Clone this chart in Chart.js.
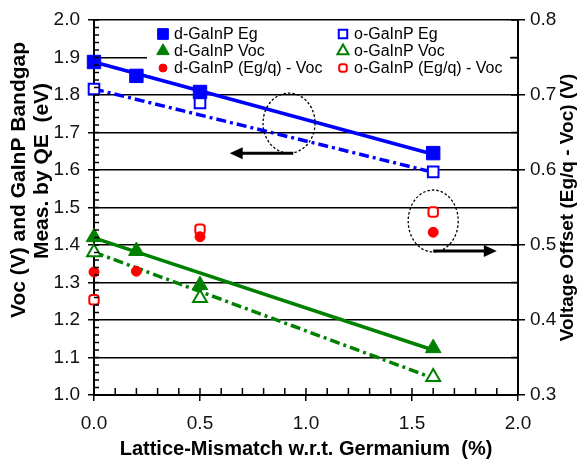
<!DOCTYPE html>
<html>
<head>
<meta charset="utf-8">
<script src="https://cdn.jsdelivr.net/npm/chart.js@4.4.1/dist/chart.umd.min.js"></script>
<style>
  html, body { margin: 0; padding: 0; background: #fff; }
</style>
</head>
<body>
<canvas id="chart" width="581" height="464"></canvas>
<script>
// lattice mismatch w.r.t. Ge (%) of the measured samples
const mismatchD = [0, 0.2, 0.5, 1.6];
const mismatchO = [0, 0.5, 1.6];

// bandgap from QE and Voc (left axis, eV / V)
const dEg = [1.888, 1.851, 1.808, 1.645];
const oEg = [1.816, 1.779, 1.595];
const dVoc = [1.421, 1.384, 1.293, 1.125];
const oVoc = [1.381, 1.259, 1.048];

// voltage offset Eg/q - Voc (right axis, V)
const dOffset = [0.464, 0.465, 0.511, 0.517];
const oOffset = [0.427, 0.521, 0.544];

// linear fits, evaluated at 0 and 1.6 %
const fitX = [0, 1.6];
const dEgFit = [1.888, 1.642];
const oEgFit = [1.816, 1.594];
const dVocFit = [1.419, 1.120];
const oVocFit = [1.381, 1.045];

const xTicks = [0, 0.5, 1.0, 1.5, 2.0];
const yTicks = [1.0, 1.1, 1.2, 1.3, 1.4, 1.5, 1.6, 1.7, 1.8, 1.9, 2.0];
const y2Ticks = [0.3, 0.4, 0.5, 0.6, 0.7, 0.8];

const BLUE = '#0000ff';
const GREEN = '#008000';
const RED = '#ff0000';
const FONT = '"Liberation Sans", Arial, Helvetica, sans-serif';

function pts(xs, ys) {
    return xs.map((x, i) => ({ x: x, y: ys[i] }));
}

function markers(label, xs, ys, axis, style, color, filled, r) {
    return {
        label: label,
        data: pts(xs, ys),
        yAxisID: axis,
        showLine: false,
        clip: false,
        pointStyle: style,
        pointRadius: r,
        pointHoverRadius: r,
        pointBackgroundColor: filled ? color : '#ffffff',
        pointBorderColor: color,
        pointBorderWidth: filled ? 1 : 2,
        borderColor: color,
        backgroundColor: filled ? color : '#ffffff',
        order: 1
    };
}

function fitLine(ys, color, dash) {
    return {
        data: pts(fitX, ys),
        yAxisID: 'y',
        showLine: true,
        clip: false,
        pointRadius: 0,
        borderColor: color,
        borderWidth: 3.5,
        borderDash: dash,
        fill: false,
        order: 2
    };
}

const DASHDOT = [10, 4, 3, 4];

const datasets = [
    markers('d-GaInP Eg', mismatchD, dEg, 'y', 'rect', BLUE, true, 9.5),
    markers('o-GaInP Eg', mismatchO, oEg, 'y', 'rect', BLUE, false, 7.5),
    markers('d-GaInP Voc', mismatchD, dVoc, 'y', 'triangle', GREEN, true, 9),
    markers('o-GaInP Voc', mismatchO, oVoc, 'y', 'triangle', GREEN, false, 8),
    markers('d-GaInP (Eg/q) - Voc', mismatchD, dOffset, 'y2', 'circle', RED, true, 5),
    markers('o-GaInP (Eg/q) - Voc', mismatchO, oOffset, 'y2', 'rectRounded', RED, false, 5.5),
    fitLine(dEgFit, BLUE, []),
    fitLine(oEgFit, BLUE, DASHDOT),
    fitLine(dVocFit, GREEN, []),
    fitLine(oVocFit, GREEN, DASHDOT)
];

// callout ellipses and arrows: centres in data units, sizes in px
const callouts = [
    { axis: 'y', cx: 0.92, cy: 1.725, rx: 26, ry: 30, ay: 1.645, ax0: 0.94, ax1: 0.64 },
    { axis: 'y2', cx: 1.6, cy: 0.532, rx: 25, ry: 31, ay: 0.492, ax0: 1.6, ax1: 1.90 }
];

function line(ctx, x0, y0, x1, y1) {
    ctx.beginPath();
    ctx.moveTo(x0, y0);
    ctx.lineTo(x1, y1);
    ctx.stroke();
}

const calloutPlugin = {
    id: 'callouts',
    afterDatasetsDraw(chart) {
        const ctx = chart.ctx;
        const xs = chart.scales.x;
        ctx.save();
        ctx.strokeStyle = '#000';
        callouts.forEach(c => {
            const ys = chart.scales[c.axis];
            const cx = xs.getPixelForValue(c.cx);
            const cy = ys.getPixelForValue(c.cy);
            ctx.lineWidth = 1.3;
            ctx.setLineDash([2.5, 2]);
            ctx.beginPath();
            ctx.ellipse(cx, cy, c.rx, c.ry, 0, 0, Math.PI * 2);
            ctx.stroke();

            const ay = ys.getPixelForValue(c.ay);
            const x0 = xs.getPixelForValue(c.ax0);
            const x1 = xs.getPixelForValue(c.ax1);
            const dir = x1 > x0 ? 1 : -1;
            ctx.setLineDash([]);
            ctx.lineWidth = 3;
            line(ctx, x0, ay, x1 - dir * 10, ay);
            ctx.fillStyle = '#000';
            ctx.beginPath();
            ctx.moveTo(x1, ay);
            ctx.lineTo(x1 - dir * 13, ay - 6);
            ctx.lineTo(x1 - dir * 13, ay + 6);
            ctx.closePath();
            ctx.fill();
        });
        ctx.restore();
    }
};

// boxed two-column legend sitting inside the plot
const legendPlugin = {
    id: 'innerLegend',
    afterDatasetsDraw(chart) {
        const ctx = chart.ctx;
        const area = chart.chartArea;
        ctx.save();
        ctx.fillStyle = '#fff';
        ctx.fillRect(area.left + 53, area.top + 3, 363, 52);
        ctx.font = '16px ' + FONT;
        ctx.textBaseline = 'middle';
        ctx.textAlign = 'left';
        for (let i = 0; i < 6; i++) {
            const ds = chart.data.datasets[i];
            const col = i % 2;
            const row = Math.floor(i / 2);
            const mx = area.left + (col ? 249 : 69);
            const my = area.top + 14 + row * 17;
            ctx.fillStyle = ds.pointBackgroundColor;
            ctx.strokeStyle = ds.pointBorderColor;
            ctx.lineWidth = ds.pointBorderWidth;
            Chart.helpers.drawPoint(ctx, {
                pointStyle: ds.pointStyle,
                radius: ds.pointRadius * 0.8,
                borderWidth: ds.pointBorderWidth,
                rotation: 0
            }, mx, my);
            ctx.fillStyle = '#000';
            ctx.fillText(ds.label, mx + 11, my + 1);
        }
        ctx.restore();
    }
};

// inner minor ticks on all three axes plus the axis titles
const framePlugin = {
    id: 'frame',
    afterDraw(chart) {
        const ctx = chart.ctx;
        const { x, y, y2 } = chart.scales;
        const a = chart.chartArea;
        ctx.save();
        ctx.strokeStyle = '#000';
        ctx.lineWidth = 1.5;
        for (let i = 0; i <= 20; i++) {
            const px = x.getPixelForValue(i / 10);
            line(ctx, px, a.bottom, px, a.bottom - 7);
        }
        for (let i = 0; i <= 50; i++) {
            const py = y.getPixelForValue(1 + i / 50);
            line(ctx, a.left, py, a.left + 5, py);
        }
        for (let i = 0; i <= 10; i++) {
            const py = y2.getPixelForValue(0.3 + i / 20);
            line(ctx, a.right, py, a.right - 7, py);
        }

        ctx.fillStyle = '#000';
        ctx.font = 'bold 20px ' + FONT;
        ctx.textAlign = 'center';
        ctx.textBaseline = 'middle';
        ctx.fillText('Lattice-Mismatch w.r.t. Germanium  (%)', (a.left + a.right) / 2, 449);

        ctx.font = 'bold 21px ' + FONT;
        ctx.save();
        ctx.translate(19, 180);
        ctx.rotate(-Math.PI / 2);
        ctx.fillText('Voc (V) and GaInP Bandgap', 0, 0);
        ctx.restore();
        ctx.save();
        ctx.translate(42, 171);
        ctx.rotate(-Math.PI / 2);
        ctx.fillText('Meas. by QE  (eV)', 0, 0);
        ctx.restore();

        ctx.font = 'bold 19px ' + FONT;
        ctx.save();
        ctx.translate(568, (a.top + a.bottom) / 2);
        ctx.rotate(-Math.PI / 2);
        ctx.fillText('Voltage Offset (Eg/q - Voc) (V)', 0, 0);
        ctx.restore();
        ctx.restore();
    }
};

const tickFont = { family: FONT, size: 19 };

new Chart(document.getElementById('chart'), {
    type: 'scatter',
    data: { datasets: datasets },
    options: {
        responsive: false,
        animation: false,
        devicePixelRatio: 1,
        layout: { padding: { top: 20, left: 0, right: 0, bottom: 0 } },
        plugins: {
            legend: { display: false },
            tooltip: { enabled: false }
        },
        scales: {
            x: {
                type: 'linear',
                min: 0,
                max: 2,
                afterFit: s => { s.height = 69; },
                afterBuildTicks: s => { s.ticks = xTicks.map(v => ({ value: v })); },
                ticks: { font: tickFont, color: '#111', padding: 11, maxRotation: 0,
                         callback: v => v.toFixed(1) },
                grid: { drawOnChartArea: false, color: '#000', lineWidth: 1.5, tickLength: 6 },
                border: { display: true, color: '#000', width: 2 }
            },
            y: {
                type: 'linear',
                position: 'left',
                min: 1,
                max: 2,
                afterFit: s => { s.width = 94; },
                afterBuildTicks: s => { s.ticks = yTicks.map(v => ({ value: v })); },
                ticks: { font: tickFont, color: '#111', padding: 8,
                         callback: v => v.toFixed(1) },
                grid: { color: '#000', lineWidth: 1.5, tickLength: 6 },
                border: { display: true, color: '#000', width: 2 }
            },
            y2: {
                type: 'linear',
                position: 'right',
                min: 0.3,
                max: 0.8,
                afterFit: s => { s.width = 63; },
                afterBuildTicks: s => { s.ticks = y2Ticks.map(v => ({ value: v })); },
                ticks: { font: tickFont, color: '#111', padding: 5,
                         callback: v => v.toFixed(1) },
                grid: { drawOnChartArea: false, color: '#000', lineWidth: 1.5, tickLength: 7 },
                border: { display: true, color: '#000', width: 2 }
            }
        }
    },
    plugins: [calloutPlugin, legendPlugin, framePlugin]
});
</script>
</body>
</html>
